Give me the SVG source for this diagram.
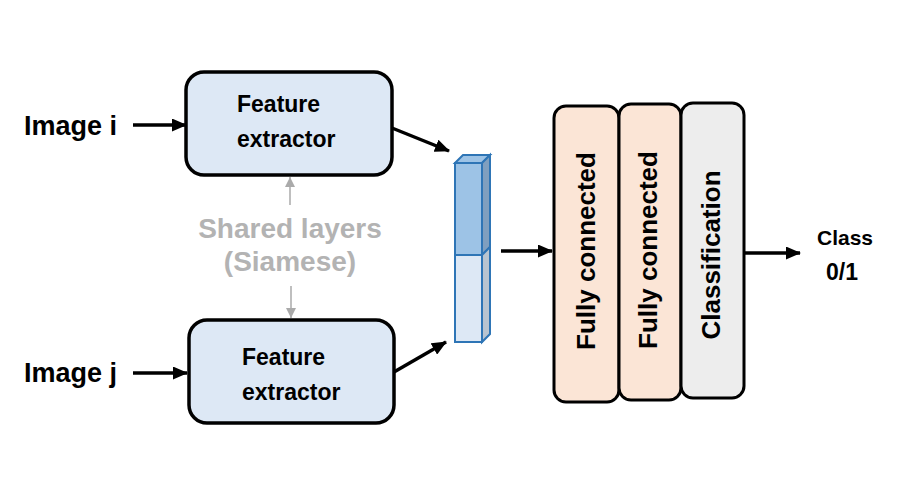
<svg xmlns="http://www.w3.org/2000/svg" width="900" height="500" viewBox="0 0 900 500">
<defs>
<marker id="ah" markerWidth="15" markerHeight="13" refX="14" refY="6.5" orient="auto" markerUnits="userSpaceOnUse"><path d="M0,0 L15,6.5 L0,13 z" fill="#000"/></marker>
<marker id="ag" markerWidth="10" markerHeight="10" refX="10" refY="5" orient="auto" markerUnits="userSpaceOnUse"><path d="M0,0 L10,5 L0,10 z" fill="#aaaaaa"/></marker>
<style>
.lbl{font-family:"Liberation Sans",Arial,sans-serif;font-weight:bold;fill:#000}
.fe{fill:#dde8f5;stroke:#000;stroke-width:3.5}
.fc{fill:#fbe5d6;stroke:#000;stroke-width:3}
.cl{fill:#ededed;stroke:#000;stroke-width:3}
.ar{stroke:#000;stroke-width:3.5;fill:none;marker-end:url(#ah)}
.ga{stroke:#aaaaaa;stroke-width:1.5;fill:none;marker-end:url(#ag)}
.sh{font-family:"Liberation Sans",Arial,sans-serif;font-weight:bold;fill:#b3b3b3;font-size:28px}
</style>
</defs>
<rect width="900" height="500" fill="#fff"/>
<g id="image-i"><text class="lbl" x="24" y="135" font-size="27">Image i</text></g>
<g id="image-j"><text class="lbl" x="24" y="382" font-size="27">Image j</text></g>
<g id="fe-top"><rect class="fe" x="186" y="72" width="206" height="103" rx="18"/><text class="lbl" font-size="23" x="237" y="112">Feature</text><text class="lbl" font-size="23" x="237" y="147">extractor</text></g>
<g id="fe-bottom"><rect class="fe" x="189" y="320" width="205" height="103" rx="18"/><text class="lbl" font-size="23" x="242" y="365">Feature</text><text class="lbl" font-size="23" x="242" y="400">extractor</text></g>
<g id="shared"><text class="sh" x="290" y="238" text-anchor="middle">Shared layers</text><text class="sh" x="290" y="271" text-anchor="middle">(Siamese)</text></g>
<g id="vector">
<path d="M455,163 L463,155 L490,155 L482,163 z" fill="#9dc3e6" stroke="#2e75b6" stroke-width="2"/>
<path d="M482,163 L490,155 L490,247 L482,255 z" fill="#7f9fbf" stroke="#2e75b6" stroke-width="2"/>
<path d="M482,255 L490,247 L490,334 L482,342 z" fill="#b8c4d0" stroke="#2e75b6" stroke-width="2"/>
<rect x="455" y="163" width="27" height="92" fill="#9dc3e6" stroke="#2e75b6" stroke-width="2"/>
<rect x="455" y="255" width="27" height="87" fill="#dde8f5" stroke="#2e75b6" stroke-width="2"/>
</g>
<g id="fc1"><rect class="fc" x="554" y="106" width="65" height="296" rx="12"/><text class="lbl" font-size="26" transform="translate(595,251) rotate(-90)" text-anchor="middle">Fully connected</text></g>
<g id="fc2"><rect class="fc" x="619" y="104" width="62" height="296" rx="12"/><text class="lbl" font-size="26" transform="translate(657,250) rotate(-90)" text-anchor="middle">Fully connected</text></g>
<g id="classification"><rect class="cl" x="681" y="103" width="63" height="295" rx="12"/><text class="lbl" font-size="26" transform="translate(720,255) rotate(-90)" text-anchor="middle">Classification</text></g>
<g id="class-out"><text class="lbl" font-size="21" x="845" y="245" text-anchor="middle">Class</text><text class="lbl" font-size="23" x="842" y="280" text-anchor="middle">0/1</text></g>
<g id="connectors">
<line class="ar" x1="133" y1="125" x2="186" y2="125"/>
<line class="ar" x1="133" y1="373" x2="187" y2="373"/>
<line class="ar" x1="392" y1="128" x2="449" y2="151"/>
<line class="ar" x1="394" y1="372" x2="446" y2="342"/>
<line class="ar" x1="501" y1="251" x2="552" y2="251"/>
<line class="ar" x1="745" y1="253" x2="800" y2="253"/>
<line class="ga" x1="290" y1="205" x2="290" y2="177"/>
<line class="ga" x1="291" y1="286" x2="291" y2="318"/>
</g>
</svg>
